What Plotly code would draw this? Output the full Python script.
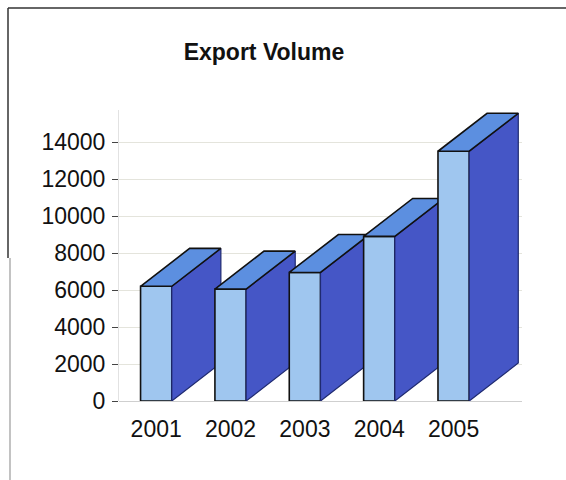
import plotly.graph_objects as go

# ---- data ----
years = ["2001", "2002", "2003", "2004", "2005"]
volumes = [6200, 6050, 6950, 8900, 13500]
y_ticks = [0, 2000, 4000, 6000, 8000, 10000, 12000, 14000]
title_text = "Export Volume"

# ---- 3D-look geometry (data units) ----
HW = 0.21      # half width of front face (category units)
DX = 0.66      # depth offset in x (category units)
DY = 2050      # depth offset in y (value units)

FRONT = "#9fc6ef"
TOP = "#5c8fe0"
SIDE = "#4556c6"

fig = go.Figure()

for i, (yr, v) in enumerate(zip(years, volumes)):
    x0, x1 = i - HW, i + HW
    # front face
    fig.add_trace(go.Scatter(
        x=[x0, x1, x1, x0, x0], y=[0, 0, v, v, 0],
        mode="lines", fill="toself", fillcolor=FRONT,
        line=dict(color="#111111", width=1.6),
        hoverinfo="text", text=f"{yr}: {v}", showlegend=False))
    # side face
    fig.add_trace(go.Scatter(
        x=[x1, x1 + DX, x1 + DX, x1, x1], y=[0, DY, v + DY, v, 0],
        mode="lines", fill="toself", fillcolor=SIDE,
        line=dict(color="#1f2a70", width=1.2),
        hoverinfo="skip", showlegend=False))
    # top face
    fig.add_trace(go.Scatter(
        x=[x0, x0 + DX, x1 + DX, x1, x0], y=[v, v + DY, v + DY, v, v],
        mode="lines", fill="toself", fillcolor=TOP,
        line=dict(color="#111111", width=1.6),
        hoverinfo="skip", showlegend=False))

L, R, T, B = 119, 44, 110, 79
W, H = 566, 480
pw, ph = W - L - R, H - T - B

def px_x(p):
    return (p - L) / pw

def px_y(p):
    return (H - B - p) / ph

fig.update_layout(
    width=W, height=H,
    margin=dict(l=L, r=R, t=T, b=B, pad=0),
    paper_bgcolor="white", plot_bgcolor="white",
    font=dict(family="Liberation Sans, Arial, sans-serif", color="#111111", size=23),
    title=dict(text=f"<b>{title_text}</b>", x=264 / W, xanchor="center",
               y=1 - 52 / H, yanchor="middle", yref="container",
               font=dict(size=23, color="#111111")),
    xaxis=dict(range=[-0.5, 4.92], tickmode="array",
               tickvals=list(range(len(years))), ticktext=years,
               showgrid=False, zeroline=False, showline=False, ticks="",
               ticklabelstandoff=12, fixedrange=True),
    yaxis=dict(range=[0, ph / 18.5 * 1000], tickmode="array",
               tickvals=y_ticks, ticktext=[str(t) for t in y_ticks],
               showgrid=True, gridcolor="#e4e4dc", gridwidth=1,
               zeroline=True, zerolinecolor="#cfcfcf", zerolinewidth=1,
               showline=True, linecolor="#e2e2e2", linewidth=1,
               ticks="outside", ticklen=6, tickcolor="#444444",
               ticklabelstandoff=2, fixedrange=True),
    shapes=[
        dict(type="line", xref="paper", yref="paper",
             x0=px_x(8), x1=px_x(572), y0=px_y(8), y1=px_y(8),
             line=dict(color="#333333", width=1.5)),
        dict(type="line", xref="paper", yref="paper",
             x0=px_x(8), x1=px_x(8), y0=px_y(8), y1=px_y(258),
             line=dict(color="#333333", width=1.5)),
        dict(type="line", xref="paper", yref="paper",
             x0=px_x(10), x1=px_x(10), y0=px_y(258), y1=px_y(485),
             line=dict(color="#9a9a9a", width=1.2)),
    ],
)

fig.write_html("out.html")
